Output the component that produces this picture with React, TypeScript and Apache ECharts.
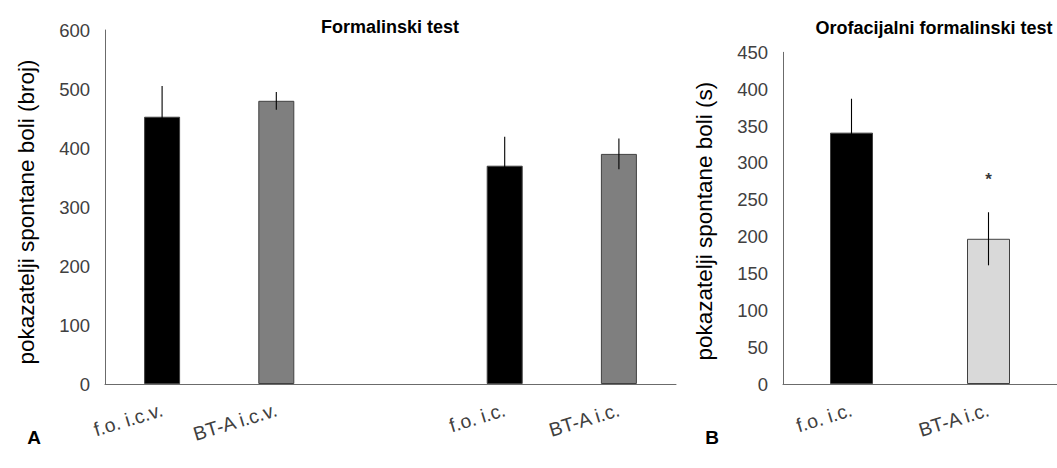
import React, { useEffect, useRef } from "react";
import * as echarts from "echarts";

const leftCategories = ["f.o. i.c.v.", "BT-A i.c.v.", "", "f.o. i.c.", "BT-A i.c."];
const leftMeans: (number | null)[] = [453, 480, null, 370, 390];
const leftErrors: (number | null)[] = [52, 15, null, 49, 26];
const leftColors = ["#000000", "#7f7f7f", "#ffffff", "#000000", "#7f7f7f"];
const leftTicks = [0, 100, 200, 300, 400, 500, 600];

const rightCategories = ["f.o. i.c.", "BT-A i.c."];
const rightMeans = [341, 197];
const rightErrors = [46, 36];
const rightColors = ["#000000", "#d9d9d9"];
const rightTicks = [0, 50, 100, 150, 200, 250, 300, 350, 400, 450];
const rightSignificance = ["", "*"];
const rightStarLevel = [null, 277];

const leftTitle = "Formalinski test";
const rightTitle = "Orofacijalni formalinski test";
const leftYName = "pokazatelji spontane boli (broj)";
const rightYName = "pokazatelji spontane boli (s)";

const FONT = "Liberation Sans, Arial, sans-serif";
const AXIS_COLOR = "#6b6b6b";
const TEXT_COLOR = "#404040";

function errorBarSeries(xIdx: number, data: (number | null)[][]) {
  return {
    type: "custom",
    xAxisIndex: xIdx,
    yAxisIndex: xIdx,
    silent: true,
    z: 5,
    encode: { x: 0, y: 1 },
    renderItem: (params: any, api: any) => {
      const mean = api.value(1);
      const err = api.value(2);
      if (mean == null || isNaN(mean)) return null;
      const top = api.coord([api.value(0), mean + err]);
      const bot = api.coord([api.value(0), mean - err]);
      return {
        type: "line",
        shape: { x1: top[0], y1: top[1], x2: bot[0], y2: bot[1] },
        style: { stroke: "#000000", lineWidth: 1.1 },
      };
    },
    data,
  };
}

export default function App() {
  const ref = useRef<HTMLDivElement>(null);
  useEffect(() => {
    if (!ref.current) return;
    const chart = echarts.init(ref.current, undefined, { renderer: "svg" });
    const yAxisCommon = {
      type: "value",
      min: 0,
      splitLine: { show: false },
      axisTick: { show: false },
      axisLine: { show: true, lineStyle: { color: AXIS_COLOR, width: 1 } },
      axisLabel: { fontFamily: FONT, fontSize: 18.5, color: TEXT_COLOR, margin: 15 },
      nameLocation: "middle",
    };
    const xAxisCommon = {
      type: "category",
      axisTick: { show: false },
      axisLine: { show: true, lineStyle: { color: AXIS_COLOR, width: 1 } },
      axisLabel: {
        fontFamily: FONT,
        fontSize: 19.5,
        color: TEXT_COLOR,
        rotate: 17,
        margin: 25,
        interval: 0,
      },
    };
    const titleStyle = { fontFamily: FONT, fontWeight: "bold", fontSize: 18, color: "#000" };
    chart.setOption({
      animation: false,
      backgroundColor: "#ffffff",
      title: [
        { text: leftTitle, left: 385, top: 13, textAlign: "center", textStyle: titleStyle },
        { text: rightTitle, left: 929, top: 14, textAlign: "center", textStyle: titleStyle },
        {
          text: "A",
          left: 29,
          top: 423,
          textAlign: "center",
          textStyle: { ...titleStyle, fontSize: 19 },
        },
        {
          text: "B",
          left: 707,
          top: 423,
          textAlign: "center",
          textStyle: { ...titleStyle, fontSize: 19 },
        },
      ],
      grid: [
        { left: 105, top: 30, width: 571, height: 354 },
        { left: 783, top: 52.3, width: 276, height: 331.7 },
      ],
      xAxis: [
        { ...xAxisCommon, gridIndex: 0, data: leftCategories },
        { ...xAxisCommon, gridIndex: 1, data: rightCategories },
      ],
      yAxis: [
        {
          ...yAxisCommon,
          gridIndex: 0,
          max: leftTicks[leftTicks.length - 1],
          interval: leftTicks[1] - leftTicks[0],
          name: leftYName,
          nameGap: 67,
          nameTextStyle: {
            fontFamily: FONT,
            fontSize: 22.5,
            color: "#000000",
            padding: [0, 10, 0, 0],
          },
        },
        {
          ...yAxisCommon,
          gridIndex: 1,
          max: rightTicks[rightTicks.length - 1],
          interval: rightTicks[1] - rightTicks[0],
          name: rightYName,
          nameGap: 67,
          nameTextStyle: {
            fontFamily: FONT,
            fontSize: 22.5,
            color: "#000000",
            padding: [0, 6, 0, 0],
          },
        },
      ],
      series: [
        {
          type: "bar",
          xAxisIndex: 0,
          yAxisIndex: 0,
          barWidth: 36,
          data: leftMeans.map((v, i) => ({
            value: v,
            itemStyle: { color: leftColors[i], borderColor: "#404040", borderWidth: 1 },
          })),
        },
        errorBarSeries(
          0,
          leftMeans.map((v, i) => [i, v, leftErrors[i]])
        ),
        {
          type: "bar",
          xAxisIndex: 1,
          yAxisIndex: 1,
          barWidth: 43,
          data: rightMeans.map((v, i) => ({
            value: v,
            itemStyle: { color: rightColors[i], borderColor: "#404040", borderWidth: 1 },
          })),
        },
        errorBarSeries(
          1,
          rightMeans.map((v, i) => [i, v, rightErrors[i]])
        ),
        {
          type: "scatter",
          xAxisIndex: 1,
          yAxisIndex: 1,
          symbolSize: 0,
          silent: true,
          label: {
            show: true,
            position: "inside",
            formatter: (p: any) => rightSignificance[p.dataIndex],
            fontFamily: FONT,
            fontWeight: "bold",
            fontSize: 17,
            color: "#000",
          },
          data: rightStarLevel.map((v, i) => [i, v]),
        },
      ],
    });
    return () => chart.dispose();
  }, []);
  return (
    <div
      ref={ref}
      style={{ position: "absolute", left: 0, top: 0, width: 1057, height: 468 }}
    />
  );
}
